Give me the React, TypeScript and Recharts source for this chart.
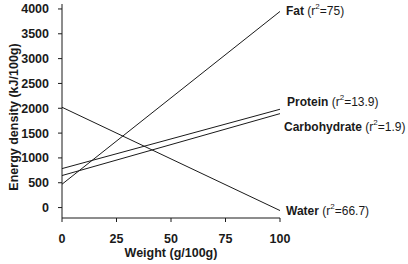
import { Label, Line, LineChart, XAxis, YAxis } from 'recharts'

// Energy density vs weight share of each macronutrient (fitted lines)
const WEIGHT = [0, 100]
const FAT = [470, 3950]
const PROTEIN = [785, 1980]
const CARBOHYDRATE = [645, 1892]
const WATER = [2020, -60]

const X_TICKS = [0, 25, 50, 75, 100]
const Y_TICKS = [0, 500, 1000, 1500, 2000, 2500, 3000, 3500, 4000]

const SERIES = [
  { key: 'fat', name: 'Fat', r2: '75' },
  { key: 'protein', name: 'Protein', r2: '13.9' },
  { key: 'carbohydrate', name: 'Carbohydrate', r2: '1.9' },
  { key: 'water', name: 'Water', r2: '66.7' },
]

// label nudges relative to the line end, px
const LABEL_OFFSET: Record<string, [number, number]> = {
  fat: [6, 0],
  protein: [7, -7],
  carbohydrate: [4, 13],
  water: [6, 0],
}

const FONT = 'Liberation Sans, Arial, Helvetica, sans-serif'
const INK = '#1a1a1a'
const TICK_STYLE = { fontSize: 12.5, fontWeight: 700, fill: INK, fontFamily: FONT }

const data = WEIGHT.map((w, i) => ({
  weight: w,
  fat: FAT[i],
  protein: PROTEIN[i],
  carbohydrate: CARBOHYDRATE[i],
  water: WATER[i],
}))

function endLabel(series: { key: string; name: string; r2: string }) {
  return (props: any) => {
    const { x, y, index } = props
    if (index !== data.length - 1) return null
    const [dx, dy] = LABEL_OFFSET[series.key]
    return (
      <text
        x={x + dx}
        y={y + dy}
        dominantBaseline="central"
        fontFamily={FONT}
        fontSize={12}
        fill={INK}
      >
        <tspan fontWeight={700}>{series.name}</tspan>
        <tspan> (r</tspan>
        <tspan fontSize={8} dy={-5}>2</tspan>
        <tspan dy={5}>={series.r2})</tspan>
      </text>
    )
  }
}

export default function App() {
  return (
    <div style={{ position: 'absolute', left: 0, top: 0, background: '#fff' }}>
      <LineChart width={408} height={264} data={data} margin={{ top: 4, right: 128, bottom: 0, left: 0 }}>
        <XAxis
          dataKey="weight"
          type="number"
          domain={[0, 100]}
          ticks={X_TICKS}
          height={46}
          tick={TICK_STYLE}
          tickSize={4}
          tickMargin={12}
          stroke={INK}
        >
          <Label
            content={({ viewBox }: any) => (
              <text
                x={viewBox.x + viewBox.width / 2}
                y={viewBox.y + 35}
                textAnchor="middle"
                dominantBaseline="central"
                fontFamily={FONT}
                fontSize={12.5}
                fontWeight={700}
                fill={INK}
              >
                Weight (g/100g)
              </text>
            )}
          />
        </XAxis>
        <YAxis
          type="number"
          domain={[-210, 4100]}
          ticks={Y_TICKS}
          width={62}
          tick={TICK_STYLE}
          tickSize={4}
          tickMargin={9}
          stroke={INK}
          interval={0}
        >
          <Label
            content={({ viewBox }: any) => {
              const cx = viewBox.x + 14
              const cy = viewBox.y + viewBox.height / 2 + 6
              return (
                <text
                  x={cx}
                  y={cy}
                  transform={`rotate(-90 ${cx} ${cy})`}
                  textAnchor="middle"
                  dominantBaseline="central"
                  fontFamily={FONT}
                  fontSize={12.5}
                  fontWeight={700}
                  fill={INK}
                >
                  Energy density (kJ/100g)
                </text>
              )
            }}
          />
        </YAxis>
        {SERIES.map((s) => (
          <Line
            key={s.key}
            dataKey={s.key}
            type="linear"
            stroke={INK}
            strokeWidth={1}
            dot={false}
            activeDot={false}
            label={endLabel(s)}
            isAnimationActive={false}
          />
        ))}
      </LineChart>
    </div>
  )
}
